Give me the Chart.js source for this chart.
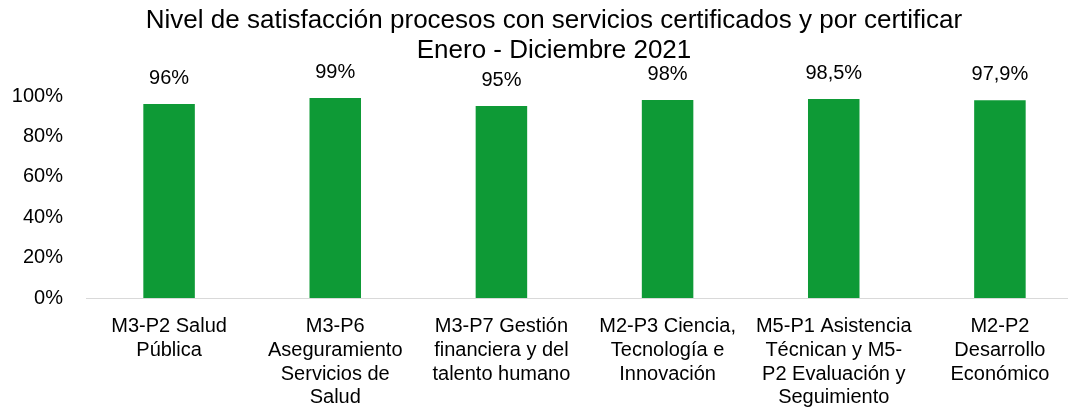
<!DOCTYPE html>
<html>
<head>
<meta charset="utf-8">
<script src="https://cdn.jsdelivr.net/npm/chart.js@4.4.1/dist/chart.umd.min.js"></script>
<style>
  html, body { margin: 0; padding: 0; background: #ffffff; overflow: hidden; }
  #wrap { position: relative; width: 1085px; height: 408px; }
</style>
</head>
<body>
<div id="wrap"><canvas id="chart"></canvas></div>
<script>
// Chart text and values
const titleLines = [
  'Nivel de satisfacción procesos con servicios certificados y por certificar',
  'Enero - Diciembre 2021'
];
const categories = [
  ['M3-P2 Salud', 'Pública'],
  ['M3-P6', 'Aseguramiento', 'Servicios de', 'Salud'],
  ['M3-P7 Gestión', 'financiera y del', 'talento humano'],
  ['M2-P3 Ciencia,', 'Tecnología e', 'Innovación'],
  ['M5-P1 Asistencia', 'Técnican y M5-', 'P2 Evaluación y', 'Seguimiento'],
  ['M2-P2', 'Desarrollo', 'Económico']
];
const satisfaction = [96, 99, 95, 98, 98.5, 97.9];
const yTicks = [0, 20, 40, 60, 80, 100];

const FONT = "'Liberation Sans', Arial, sans-serif";
const BAR_COLOR = '#0e9a36';

const fmtPct = v => String(v).replace('.', ',') + '%';

// Two-line heading centred over the figure
const headingPlugin = {
  id: 'heading',
  afterDraw(chart) {
    const ctx = chart.ctx;
    ctx.save();
    ctx.fillStyle = '#000000';
    ctx.font = '26px ' + FONT;
    ctx.textAlign = 'center';
    ctx.textBaseline = 'middle';
    const cx = 554;
    titleLines.forEach((t, i) => ctx.fillText(t, cx, 21 + i * 30));
    ctx.restore();
  }
};

// Value labels above each bar
const valueLabels = {
  id: 'valueLabels',
  afterDatasetsDraw(chart) {
    const ctx = chart.ctx;
    const meta = chart.getDatasetMeta(0);
    ctx.save();
    ctx.fillStyle = '#000000';
    ctx.font = '20px ' + FONT;
    ctx.textAlign = 'center';
    ctx.textBaseline = 'middle';
    meta.data.forEach((bar, i) => {
      const v = chart.data.datasets[0].data[i];
      ctx.fillText(fmtPct(v), bar.x, bar.y - 26);
    });
    ctx.restore();
  }
};

new Chart(document.getElementById('chart'), {
  type: 'bar',
  data: {
    labels: categories,
    datasets: [{
      data: satisfaction,
      backgroundColor: BAR_COLOR,
      borderWidth: 0,
      barPercentage: 0.31,
      categoryPercentage: 1.0
    }]
  },
  options: {
    responsive: true,
    maintainAspectRatio: false,
    animation: false,
    layout: { padding: { top: 96, left: 0, right: 2, bottom: 0 } },
    plugins: {
      legend: { display: false },
      title: { display: false },
      tooltip: { enabled: false }
    },
    scales: {
      x: {
        grid: { display: false, drawTicks: false },
        border: { display: true, color: '#d9d9d9', width: 1 },
        ticks: {
          color: '#000000',
          font: { family: FONT, size: 20, lineHeight: 1.18 },
          padding: 17,
          maxRotation: 0,
          autoSkip: false
        },
        afterFit(scale) { scale.height = 110; }
      },
      y: {
        min: 0,
        max: 100,
        afterBuildTicks(scale) { scale.ticks = yTicks.map(v => ({ value: v })); },
        grid: { display: false, drawTicks: false },
        border: { display: false },
        ticks: {
          color: '#000000',
          font: { family: FONT, size: 20 },
          padding: 23,
          callback: v => v + '%'
        },
        afterFit(scale) { scale.width = 86; }
      }
    }
  },
  plugins: [headingPlugin, valueLabels]
});
</script>
</body>
</html>
